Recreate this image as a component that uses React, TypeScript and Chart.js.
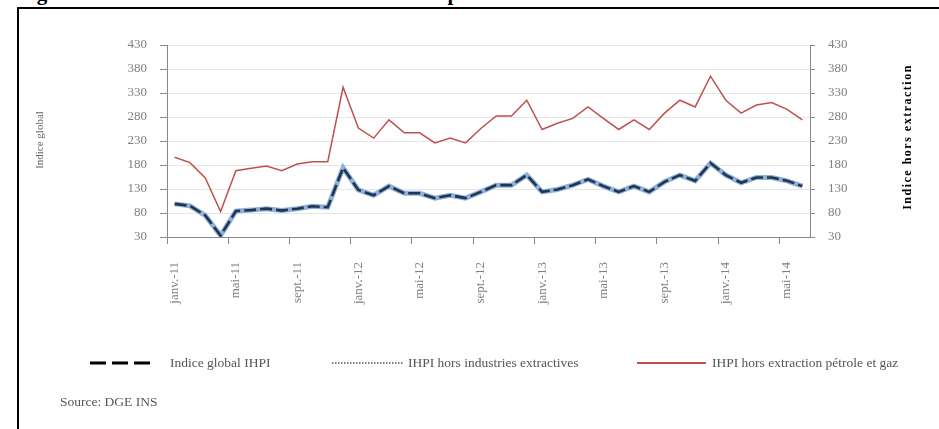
import React, { useEffect, useRef } from 'react';
import { Chart, registerables } from 'chart.js';

Chart.register(...registerables);

const categories = [
  'janv.-11','févr.-11','mars-11','avr.-11','mai-11','juin-11','juil.-11','août-11','sept.-11','oct.-11','nov.-11','déc.-11',
  'janv.-12','févr.-12','mars-12','avr.-12','mai-12','juin-12','juil.-12','août-12','sept.-12','oct.-12','nov.-12','déc.-12',
  'janv.-13','févr.-13','mars-13','avr.-13','mai-13','juin-13','juil.-13','août-13','sept.-13','oct.-13','nov.-13','déc.-13',
  'janv.-14','févr.-14','mars-14','avr.-14','mai-14','juin-14',
];

const indiceGlobal = [99,95,75,33,84,86,89,85,89,94,92,174,128,117,136,121,121,111,117,111,124,138,138,159,124,129,138,150,136,124,136,124,145,159,147,184,159,143,154,154,147,136];
const horsIndustriesExtractives = [99,95,75,33,84,86,89,85,89,94,92,174,128,117,136,121,121,111,117,111,124,138,138,159,124,129,138,150,136,124,136,124,145,159,147,184,159,143,154,154,147,136];
const horsPetroleGaz = [196,185,153,83,168,173,178,168,182,187,187,342,257,236,274,247,247,226,236,226,256,282,282,315,254,267,277,301,277,254,274,254,288,315,301,365,315,288,305,310,296,274];

const yMin = 30;
const yMax = 430;
const yStep = 50;

const seriesNames = ['Indice global IHPI', 'IHPI hors industries extractives', 'IHPI hors extraction pétrole et gaz'];
const leftTitle = 'Indice global';
const rightTitle = 'Indice hors extraction';
const figureTitle = "Figure 3 : Evolution de l'indice harmonisé de la production industrielle";
const sourceText = 'Source: DGE INS';

const SERIF = '"Liberation Serif", "DejaVu Serif", serif';

export default function App() {
  const canvasRef = useRef<HTMLCanvasElement | null>(null);

  useEffect(() => {
    if (!canvasRef.current) return;
    const titlesPlugin = {
      id: 'axisTitles',
      afterDraw(chart: any) {
        const ctx = chart.ctx as CanvasRenderingContext2D;
        ctx.save();
        ctx.translate(40, 140);
        ctx.rotate(-Math.PI / 2);
        ctx.font = `11px ${SERIF}`;
        ctx.fillStyle = '#666';
        ctx.textAlign = 'center';
        ctx.textBaseline = 'middle';
        ctx.fillText(leftTitle, 0, 0);
        ctx.restore();

        ctx.save();
        ctx.translate(908, 137);
        ctx.rotate(-Math.PI / 2);
        ctx.font = `bold 12px ${SERIF}`;
        (ctx as any).letterSpacing = '1.5px';
        ctx.fillStyle = '#000';
        ctx.textAlign = 'center';
        ctx.textBaseline = 'middle';
        ctx.fillText(rightTitle, 0, 0);
        ctx.restore();
      },
    };

    const tickFont = { family: SERIF, size: 13 };
    const chart = new Chart(canvasRef.current, {
      type: 'line',
      data: {
        labels: categories,
        datasets: [
          {
            label: seriesNames[0],
            data: indiceGlobal,
            borderColor: '#1f3550',
            borderWidth: 2.6,
            borderDash: [12, 4],
            pointRadius: 0,
            tension: 0,
            yAxisID: 'y',
          },
          {
            label: seriesNames[1],
            data: horsIndustriesExtractives,
            borderColor: '#8fb0d8',
            borderWidth: 5,
            pointRadius: 0,
            tension: 0,
            yAxisID: 'y',
          },
          {
            label: seriesNames[2],
            data: horsPetroleGaz,
            borderColor: '#c0504d',
            borderWidth: 1.5,
            pointRadius: 0,
            tension: 0,
            yAxisID: 'y1',
          },
        ],
      },
      options: {
        responsive: false,
        animation: false,
        devicePixelRatio: 1,
        layout: { padding: { top: 45, left: 0, right: 0, bottom: 0 }, autoPadding: false },
        plugins: { legend: { display: false }, tooltip: { enabled: false }, title: { display: false } },
        scales: {
          x: {
            type: 'category',
            offset: true,
            grid: {
              offset: true,
              drawOnChartArea: false,
              drawTicks: true,
              tickLength: 7,
              tickColor: (ctx: any) => (ctx.index % 4 === 0 ? '#888' : 'rgba(0,0,0,0)'),
            },
            border: { color: '#888', width: 1 },
            ticks: {
              autoSkip: false,
              minRotation: 90,
              maxRotation: 90,
              padding: 18,
              color: '#808080',
              font: tickFont,
              callback: (_v: any, i: number) => (i % 4 === 0 ? categories[i] : ''),
            },
            afterFit: (s: any) => { s.height = 93; },
          },
          y: {
            position: 'left',
            min: yMin,
            max: yMax,
            ticks: { stepSize: yStep, padding: 13, color: '#808080', font: tickFont },
            grid: { color: '#e6e6e6', tickColor: '#888', tickLength: 7 },
            border: { color: '#888', width: 1 },
            afterFit: (s: any) => { s.width = 167; },
          },
          y1: {
            position: 'right',
            min: yMin,
            max: yMax,
            ticks: { stepSize: yStep, padding: 13, color: '#808080', font: tickFont },
            grid: { drawOnChartArea: false, tickColor: '#888', tickLength: 5 },
            border: { color: '#888', width: 1 },
            afterFit: (s: any) => { s.width = 129; },
          },
        },
      },
      plugins: [titlesPlugin],
    } as any);
    return () => chart.destroy();
  }, []);

  const legendText: React.CSSProperties = {
    position: 'absolute',
    top: 354,
    fontFamily: SERIF,
    fontSize: 13.5,
    lineHeight: '18px',
    color: '#555',
    whiteSpace: 'nowrap',
  };

  return (
    <div style={{ position: 'fixed', left: 0, top: 0, width: 939, height: 429, overflow: 'hidden', background: '#fff' }}>
      <div style={{ position: 'absolute', left: 18, top: -17.5, fontFamily: SERIF, fontWeight: 'bold', fontSize: 21, lineHeight: '21px', whiteSpace: 'nowrap', color: '#000' }}>
        {figureTitle}
      </div>
      <div style={{ position: 'absolute', left: 17, top: 7, width: 1000, height: 1000, borderLeft: '2px solid #000', borderTop: '2px solid #000' }} />
      <canvas ref={canvasRef} width={939} height={330} style={{ position: 'absolute', left: 0, top: 0, width: 939, height: 330 }} />
      <svg width={939} height={429} style={{ position: 'absolute', left: 0, top: 0 }}>
        <line x1={90} y1={363} x2={150} y2={363} stroke="#000" strokeWidth={3} strokeDasharray="16 6" />
        <line x1={332} y1={363} x2={404} y2={363} stroke="#555" strokeWidth={1.5} strokeDasharray="1.5 1.5" />
        <line x1={637} y1={363} x2={706} y2={363} stroke="#c0504d" strokeWidth={2} />
      </svg>
      <div style={{ ...legendText, left: 170 }}>{seriesNames[0]}</div>
      <div style={{ ...legendText, left: 408 }}>{seriesNames[1]}</div>
      <div style={{ ...legendText, left: 712 }}>{seriesNames[2]}</div>
      <div style={{ ...legendText, left: 60, top: 393 }}>{sourceText}</div>
    </div>
  );
}
